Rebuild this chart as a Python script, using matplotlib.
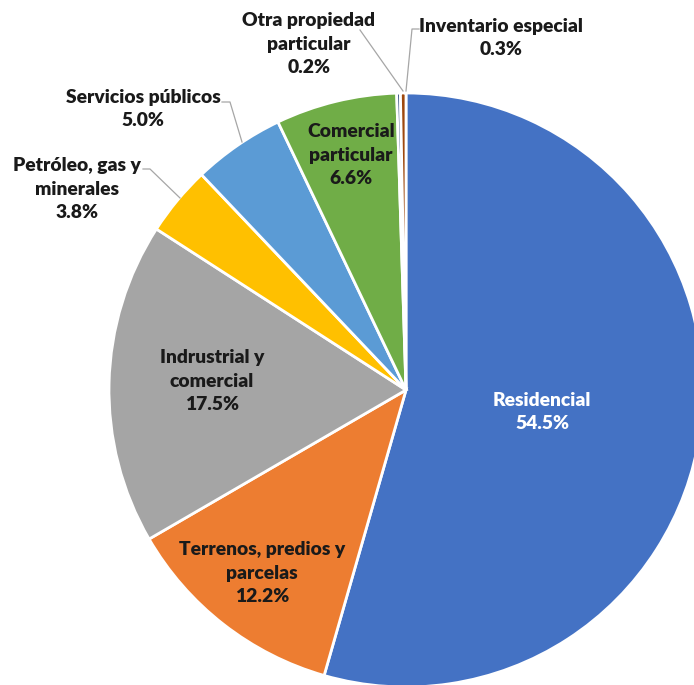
import matplotlib
matplotlib.use("Agg")
import matplotlib.pyplot as plt

categories = ["Residencial", "Terrenos, predios y\nparcelas", "Indrustrial y\ncomercial",
              "Petróleo, gas y\nminerales", "Servicios públicos", "Comercial\nparticular",
              "Otra propiedad\nparticular", "Inventario especial"]
values = [54.5, 12.2, 17.5, 3.8, 5.0, 6.6, 0.2, 0.3]
colors = ["#4472C4", "#ED7D31", "#A5A5A5", "#FFC000", "#5B9BD5", "#70AD47", "#264478", "#9E480E"]

W, H = 694, 685
fig = plt.figure(figsize=(W / 100, H / 100), dpi=100)
ax = fig.add_axes([0, 0, 1, 1])

cx, cy, r = 406, H - 390, 297
ax.pie(values, colors=colors, startangle=90, counterclock=False,
       center=(cx, cy), radius=r, frame=True,
       wedgeprops=dict(edgecolor="white", linewidth=2))
ax.set_xlim(0, W)
ax.set_ylim(0, H)
ax.set_aspect("equal")
ax.axis("off")

font = dict(family=["Lato", "DejaVu Sans"], fontweight="heavy", fontsize=13.9,
            ha="center", va="center", linespacing=1.47)

# label positions in pixel coords (x, y from top)
label_pos = [(542, 412), (262, 573), (212, 381), (77, 189), (143, 109),
             (351, 155), (309, 44), (501, 38)]
text_colors = ["white"] + ["#1a1a1a"] * 7
for cat, val, (lx, ly), tc in zip(categories, values, label_pos, text_colors):
    ax.text(lx, H - ly, f"{cat}\n{val:.1f}%", color=tc, **font)

# leader lines (pixel coords)
leaders = [
    [(222, 102), (230, 102), (242, 142)],
    [(143, 169), (150, 169), (180, 198)],
    [(360, 30), (403, 91)],
    [(419, 29), (412, 29), (406, 91)],
]
for pts in leaders:
    xs = [p[0] for p in pts]
    ys = [H - p[1] for p in pts]
    ax.plot(xs, ys, color="#A6A6A6", lw=0.9)

fig.savefig("out.png", dpi=100)
